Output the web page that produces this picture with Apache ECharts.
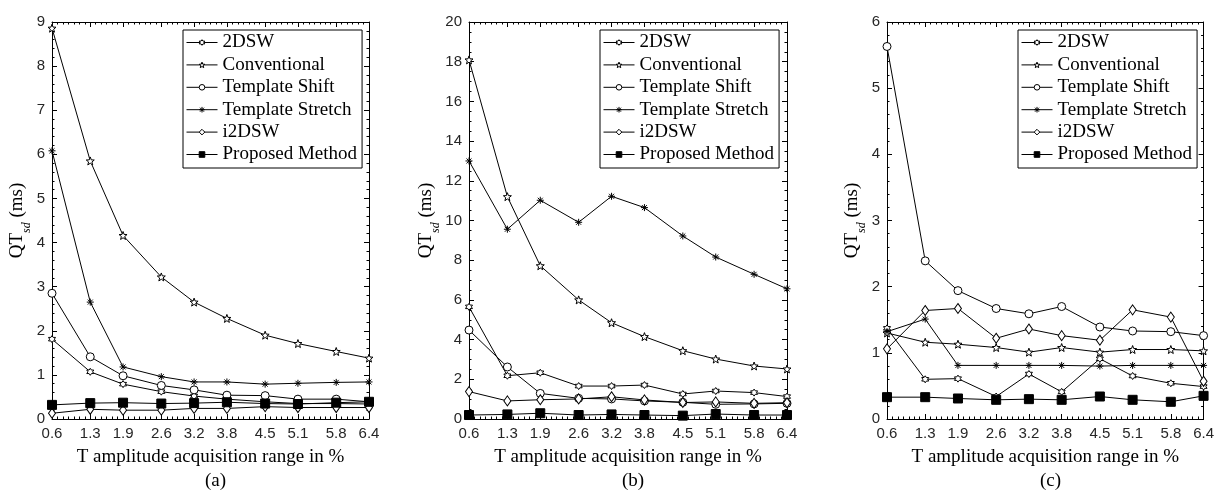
<!DOCTYPE html>
<html>
<head>
<meta charset="utf-8">
<script src="https://cdn.jsdelivr.net/npm/echarts@6/dist/echarts.min.js"></script>
<style>html,body{margin:0;padding:0;background:#fff}#c{width:1217px;height:491px}</style>
</head>
<body>
<div id="c"></div>
<script>
// ---- data ----
const xVals = [0.6, 1.3, 1.9, 2.6, 3.2, 3.8, 4.5, 5.1, 5.8, 6.4];
const seriesNames = ['2DSW', 'Conventional', 'Template Shift', 'Template Stretch', 'i2DSW', 'Proposed Method'];

const a2DSW         = [1.81, 1.07, 0.79, 0.62, 0.52, 0.45, 0.39, 0.35, 0.35, 0.34];
const aConventional = [8.86, 5.85, 4.16, 3.22, 2.65, 2.28, 1.90, 1.71, 1.53, 1.38];
const aShift        = [2.85, 1.41, 0.98, 0.76, 0.66, 0.54, 0.53, 0.45, 0.45, 0.39];
const aStretch      = [6.08, 2.65, 1.18, 0.96, 0.84, 0.84, 0.79, 0.81, 0.83, 0.84];
const aI2DSW        = [0.13, 0.22, 0.20, 0.20, 0.24, 0.24, 0.28, 0.26, 0.26, 0.26];
const aProposed     = [0.32, 0.36, 0.37, 0.35, 0.36, 0.38, 0.35, 0.34, 0.37, 0.39];

const b2DSW         = [5.65, 2.18, 2.33, 1.66, 1.66, 1.71, 1.26, 1.41, 1.33, 1.13];
const bConventional = [18.09, 11.2, 7.72, 6.0, 4.85, 4.15, 3.44, 3.02, 2.67, 2.52];
const bShift        = [4.48, 2.62, 1.29, 1.04, 1.01, 0.91, 0.84, 0.74, 0.76, 0.79];
const bStretch      = [13.0, 9.56, 11.02, 9.91, 11.22, 10.65, 9.22, 8.16, 7.29, 6.56];
const bI2DSW        = [1.38, 0.91, 0.97, 1.01, 1.12, 0.96, 0.83, 0.86, 0.79, 0.82];
const bProposed     = [0.20, 0.23, 0.29, 0.20, 0.23, 0.20, 0.17, 0.25, 0.20, 0.20];

const c2DSW         = [1.37, 0.60, 0.61, 0.34, 0.68, 0.41, 0.91, 0.65, 0.54, 0.49];
const cConventional = [1.30, 1.16, 1.13, 1.08, 1.01, 1.08, 1.01, 1.05, 1.05, 1.03];
const cShift        = [5.63, 2.39, 1.94, 1.67, 1.59, 1.70, 1.39, 1.33, 1.32, 1.26];
const cStretch      = [1.32, 1.51, 0.81, 0.81, 0.81, 0.81, 0.80, 0.81, 0.81, 0.81];
const cI2DSW        = [1.06, 1.64, 1.67, 1.22, 1.36, 1.26, 1.19, 1.65, 1.54, 0.57];
const cProposed     = [0.33, 0.33, 0.31, 0.29, 0.30, 0.29, 0.34, 0.29, 0.26, 0.35];

const yMaxes = [9, 20, 6];
const yIntervals = [1, 2, 1];
const panelLabels = ['(a)', '(b)', '(c)'];
const xTitle = 'T amplitude acquisition range in %';

// ---- layout / style ----
const panels = [
  { left: 52, width: 317, data: [a2DSW, aConventional, aShift, aStretch, aI2DSW, aProposed], legendLeft: 183, minorSplit: 5 },
  { left: 469, width: 318, data: [b2DSW, bConventional, bShift, bStretch, bI2DSW, bProposed], legendLeft: 600, minorSplit: 4 },
  { left: 887, width: 317, data: [c2DSW, cConventional, cShift, cStretch, cI2DSW, cProposed], legendLeft: 1018, minorSplit: 5 }
];
const gridTop = 22, gridHeight = 397;

function starPath(n, r2) {
  let d = '';
  for (let i = 0; i < 2 * n; i++) {
    const r = i % 2 ? r2 : 1;
    const a = -Math.PI / 2 + i * Math.PI / n;
    d += (i ? 'L' : 'M') + (r * Math.cos(a)).toFixed(3) + ',' + (r * Math.sin(a)).toFixed(3);
  }
  return 'path://' + d + 'Z';
}
const asterisk = 'path://M0,-1L0,1M-1,0L1,0M-0.71,-0.71L0.71,0.71M-0.71,0.71L0.71,-0.71';

const markers = [
  { symbol: starPath(6, 0.58), size: 7, fill: '#fff' },
  { symbol: starPath(5, 0.42), size: 8, fill: '#fff' },
  { symbol: 'circle', size: 8, fill: '#fff' },
  { symbol: asterisk, size: 7, fill: '#000' },
  { symbol: 'diamond', size: [7, 10], fill: '#fff' },
  { symbol: 'rect', size: 9, fill: '#000' }
];

const serif = 'Liberation Serif';
const sans = 'Liberation Sans';
const ink = '#000';

const grid = [], xAxis = [], yAxis = [], series = [], legend = [], title = [];

panels.forEach((p, pi) => {
  grid.push({ left: p.left, top: gridTop, width: p.width, height: gridHeight });
  const xBase = { type: 'value', gridIndex: pi, min: 0.6, max: 6.4, splitLine: { show: false } };
  xAxis.push(Object.assign({}, xBase, {
    position: 'bottom',
    axisLine: { show: true, lineStyle: { color: ink, width: 1 } },
    axisTick: { show: true, inside: true, length: 5, customValues: xVals, lineStyle: { color: ink } },
    axisLabel: { show: true, customValues: xVals, margin: 7, color: '#262626', fontFamily: sans, fontSize: 15, formatter: v => v.toFixed(1) },
    name: xTitle, nameLocation: 'middle', nameGap: 29,
    nameTextStyle: { fontFamily: serif, fontSize: 19, color: ink }
  }));
  xAxis.push(Object.assign({}, xBase, {
    position: 'bottom', interval: 0.1,
    axisLine: { show: false },
    axisTick: { show: true, inside: true, length: 2.5, lineStyle: { color: ink } },
    axisLabel: { show: false }
  }));
  xAxis.push(Object.assign({}, xBase, {
    position: 'top',
    axisLine: { show: true, lineStyle: { color: ink, width: 1 } },
    axisTick: { show: true, inside: true, length: 5, customValues: xVals, lineStyle: { color: ink } },
    axisLabel: { show: false }
  }));
  xAxis.push(Object.assign({}, xBase, {
    position: 'top', interval: 0.1,
    axisLine: { show: false },
    axisTick: { show: true, inside: true, length: 2.5, lineStyle: { color: ink } },
    axisLabel: { show: false }
  }));
  const yBase = {
    type: 'value', gridIndex: pi, min: 0, max: yMaxes[pi], interval: yIntervals[pi],
    splitLine: { show: false }, minorSplitLine: { show: false },
    axisLine: { show: true, lineStyle: { color: ink, width: 1 } },
    axisTick: { show: true, inside: true, length: 5, lineStyle: { color: ink } },
    minorTick: { show: true, splitNumber: p.minorSplit, length: 2.5, lineStyle: { color: ink } }
  };
  yAxis.push(Object.assign({}, yBase, {
    position: 'left',
    axisLabel: { show: true, margin: 7, color: '#262626', fontFamily: sans, fontSize: 15 },
    name: '{n|QT}{s|sd}{n| (ms)}', nameLocation: 'middle', nameGap: 22,
    nameTextStyle: {
      rich: {
        n: { fontFamily: serif, fontSize: 19, color: ink },
        s: { fontFamily: serif, fontStyle: 'italic', fontSize: 12, color: ink, verticalAlign: 'bottom', padding: [0, 0, -6, 0] }
      }
    }
  }));
  yAxis.push(Object.assign({}, yBase, { position: 'right', axisLabel: { show: false } }));

  p.data.forEach((vals, si) => {
    const m = markers[si];
    series.push({
      type: 'line', name: seriesNames[si],
      xAxisIndex: pi * 4, yAxisIndex: pi * 2,
      data: xVals.map((x, k) => [x, vals[k]]),
      symbol: m.symbol, symbolSize: m.size, showSymbol: true,
      lineStyle: { color: ink, width: 1 },
      itemStyle: { color: m.fill, borderColor: ink, borderWidth: 1 },
      emphasis: { disabled: true },
      animation: false, z: 2 + si
    });
  });

  legend.push({
    orient: 'vertical', left: p.legendLeft, top: 30,
    data: seriesNames,
    backgroundColor: '#fff', borderColor: ink, borderWidth: 1, borderRadius: 0,
    padding: [3, 5, 4, 3], itemGap: 3.4, itemWidth: 31, itemHeight: 7,
    lineStyle: { width: 1 },
    itemStyle: { borderWidth: 1 },
    textStyle: { fontFamily: serif, fontSize: 19, color: ink, lineHeight: 18 },
    selectedMode: false
  });

  title.push({
    text: panelLabels[pi], left: p.left + p.width / 2, top: 467, textAlign: 'center',
    textStyle: { fontFamily: serif, fontSize: 19, fontWeight: 'normal', color: ink }
  });
});

const chart = echarts.init(document.getElementById('c'), null, { renderer: 'canvas' });
chart.setOption({ animation: false, backgroundColor: '#fff', grid, xAxis, yAxis, series, legend, title });
</script>
</body>
</html>
